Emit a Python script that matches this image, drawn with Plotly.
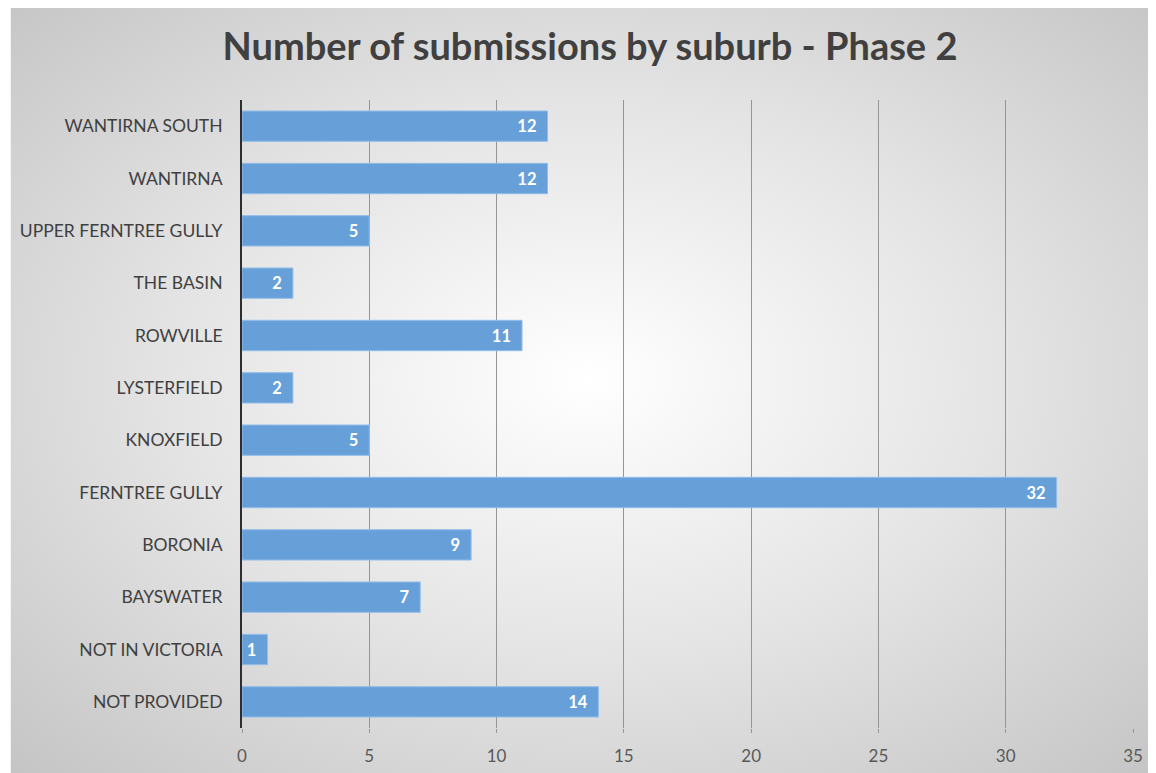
import base64
import plotly.graph_objects as go

suburbs = ["NOT PROVIDED", "NOT IN VICTORIA", "BAYSWATER", "BORONIA", "FERNTREE GULLY",
           "KNOXFIELD", "LYSTERFIELD", "ROWVILLE", "THE BASIN", "UPPER FERNTREE GULLY",
           "WANTIRNA", "WANTIRNA SOUTH"]
submissions = [14, 1, 7, 9, 32, 5, 2, 11, 2, 5, 12, 12]
x_ticks = [0, 5, 10, 15, 20, 25, 30, 35]

W, H = 1156, 773
L, R, T, B = 232, 31, 92, 53
PW, PH = W - L - R, H - T - B

svg = ('<svg xmlns="http://www.w3.org/2000/svg" width="1156" height="773" preserveAspectRatio="none">'
       '<defs><radialGradient id="g" cx="50%" cy="48%" r="72%">'
       '<stop offset="0%" stop-color="#ffffff"/><stop offset="50%" stop-color="#e4e4e4"/>'
       '<stop offset="100%" stop-color="#c4c4c4"/></radialGradient></defs>'
       '<rect width="1156" height="773" fill="url(#g)"/></svg>')
bg = "data:image/svg+xml;base64," + base64.b64encode(svg.encode()).decode()

fig = go.Figure(go.Bar(
    y=suburbs, x=submissions, orientation="h",
    marker=dict(color="#67a0d9", line=dict(color="#93bde8", width=1)),
    texttemplate="%{x}\u00a0\u00a0", textposition="inside", insidetextanchor="end",
    textfont=dict(color="white", size=16.5, family="Lato", weight="bold"),
    width=0.58,
))

fig.update_layout(
    width=W, height=H,
    margin=dict(l=L, r=R, t=T, b=B),
    paper_bgcolor="white", plot_bgcolor="rgba(0,0,0,0)",
    title=dict(text="<b>Number of submissions by suburb - Phase 2</b>", x=582 / W, xanchor="center",
               y=1 - 39 / H, yanchor="middle",
               font=dict(family="Lato", size=38, color="#404040")),
    images=[dict(source=bg, xref="paper", yref="paper", x=-L / PW, y=1 + T / PH,
                 sizex=W / PW, sizey=H / PH, xanchor="left", yanchor="top",
                 sizing="stretch", layer="below")],
    xaxis=dict(range=[0, 35], tickvals=x_ticks, showgrid=True, gridcolor="#959595", gridwidth=1,
               zeroline=False, ticks="outside", ticklen=4, tickcolor="#959595",
               ticklabelstandoff=9,
               tickfont=dict(family="Lato", size=17, color="#595959"), showline=False),
    yaxis=dict(showline=True, linecolor="#2e2e2e", linewidth=2, ticks="", ticklen=0,
               ticklabelstandoff=14,
               tickfont=dict(family="Lato", size=17.5, color="#404040"), range=[-0.5, 11.5]),
    showlegend=False,
)
fig.write_html("out.html")
